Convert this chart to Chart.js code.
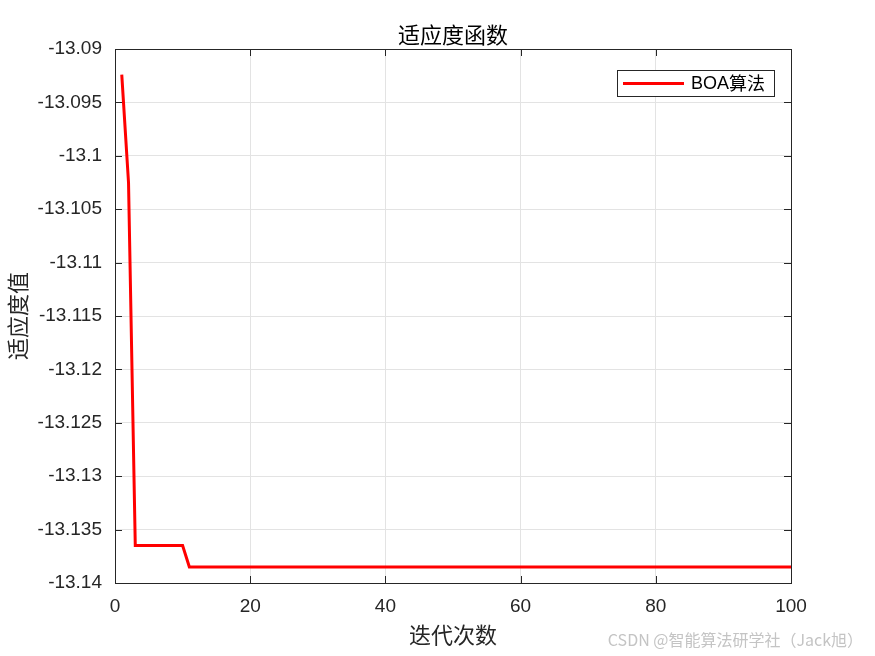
<!DOCTYPE html>
<html>
<head>
<meta charset="utf-8">
<script src="https://cdn.jsdelivr.net/npm/chart.js@4/dist/chart.umd.min.js"></script>
<style>
    html, body { margin: 0; padding: 0; background: #fff; }
    #wrap { position: relative; width: 875px; height: 656px; }
</style>
</head>
<body>
<div id="wrap"><canvas id="fitChart" width="875" height="656"></canvas></div>
<script>
// Data (breakpoints of the convergence curve)
const iterations = [1, 2, 3, 10, 11, 100];
const fitness = [-13.0924, -13.1025, -13.1365, -13.1365, -13.1385, -13.1385];
const xTicks = [0, 20, 40, 60, 80, 100];
const yTicks = [-13.14, -13.135, -13.13, -13.125, -13.12, -13.115, -13.11, -13.105, -13.1, -13.095, -13.09];

const seriesLabel = 'BOA算法';
const chartTitle = '适应度函数';
const xTitle = '迭代次数';
const yTitle = '适应度值';
const watermark = 'CSDN @智能算法研学社（Jack旭）';

const latinFont = "'Liberation Sans', Arial, sans-serif";
const cjkFont = "'Noto Sans CJK SC', sans-serif";

// Box, inner ticks, title, legend and watermark (MATLAB look)
const matlabFrame = {
    id: 'matlabFrame',
    afterDraw(chart) {
        const { ctx, chartArea: a, scales } = chart;
        ctx.save();

        // inner tick marks on all four sides
        ctx.strokeStyle = '#262626';
        ctx.lineWidth = 1;
        const tl = 7;
        xTicks.forEach(v => {
            const px = Math.round(scales.x.getPixelForValue(v)) + 0.5;
            ctx.beginPath();
            ctx.moveTo(px, a.bottom); ctx.lineTo(px, a.bottom - tl);
            ctx.moveTo(px, a.top); ctx.lineTo(px, a.top + tl);
            ctx.stroke();
        });
        yTicks.forEach(v => {
            const py = Math.round(scales.y.getPixelForValue(v)) + 0.5;
            ctx.beginPath();
            ctx.moveTo(a.left, py); ctx.lineTo(a.left + tl, py);
            ctx.moveTo(a.right, py); ctx.lineTo(a.right - tl, py);
            ctx.stroke();
        });

        // axes box
        ctx.strokeStyle = '#262626';
        ctx.strokeRect(Math.round(a.left) + 0.5, Math.round(a.top) + 0.5,
            Math.round(a.right - a.left), Math.round(a.bottom - a.top));

        // title
        ctx.fillStyle = '#000';
        ctx.font = `22px ${cjkFont}`;
        ctx.textAlign = 'center';
        ctx.textBaseline = 'bottom';
        ctx.fillText(chartTitle, (a.left + a.right) / 2, a.top - 3);

        // legend box
        const lx = 617, ly = 70, lw = 157, lh = 26;
        ctx.fillStyle = '#fff';
        ctx.fillRect(lx, ly, lw, lh);
        ctx.strokeStyle = '#262626';
        ctx.strokeRect(lx + 0.5, ly + 0.5, lw, lh);
        ctx.strokeStyle = '#ff0000';
        ctx.lineWidth = 3;
        ctx.beginPath();
        ctx.moveTo(lx + 6, ly + 13.5);
        ctx.lineTo(lx + 67, ly + 13.5);
        ctx.stroke();
        ctx.fillStyle = '#000';
        ctx.textAlign = 'left';
        ctx.textBaseline = 'middle';
        ctx.font = `18px ${latinFont}`;
        ctx.fillText('BOA', lx + 74, ly + 14);
        const w = ctx.measureText('BOA').width;
        ctx.font = `18px ${cjkFont}`;
        ctx.fillText('算法', lx + 74 + w, ly + 13);

        // watermark
        ctx.fillStyle = '#c4c4c4';
        ctx.font = `16px ${cjkFont}`;
        ctx.textAlign = 'right';
        ctx.textBaseline = 'middle';
        ctx.fillText(watermark, 863, 640);

        ctx.restore();
    }
};

new Chart(document.getElementById('fitChart'), {
    type: 'line',
    data: {
        datasets: [{
            label: seriesLabel,
            data: iterations.map((x, i) => ({ x, y: fitness[i] })),
            borderColor: '#ff0000',
            backgroundColor: '#ff0000',
            borderWidth: 3,
            pointRadius: 0,
            tension: 0,
            fill: false
        }]
    },
    options: {
        responsive: false,
        animation: false,
        layout: { padding: { top: 49, right: 84, left: 0, bottom: 0 } },
        plugins: {
            legend: { display: false },
            title: { display: false },
            tooltip: { enabled: false }
        },
        scales: {
            x: {
                type: 'linear',
                min: 0,
                max: 100,
                afterBuildTicks: s => { s.ticks = xTicks.map(v => ({ value: v })); },
                afterFit: s => { s.height = 73; },
                grid: { color: '#e3e3e3', drawTicks: false },
                border: { display: false },
                ticks: {
                    color: '#262626',
                    font: { family: latinFont, size: 19 },
                    padding: 12,
                    maxRotation: 0
                },
                title: {
                    display: true,
                    text: xTitle,
                    color: '#262626',
                    font: { family: cjkFont, size: 22 },
                    padding: { top: 2, bottom: 8 }
                }
            },
            y: {
                type: 'linear',
                min: -13.14,
                max: -13.09,
                afterBuildTicks: s => { s.ticks = yTicks.map(v => ({ value: v })); },
                afterFit: s => { s.width = 115; },
                grid: { color: '#e3e3e3', drawTicks: false },
                border: { display: false },
                ticks: {
                    color: '#262626',
                    font: { family: latinFont, size: 19 },
                    padding: 13,
                    callback: v => String(parseFloat(v.toFixed(3)))
                },
                title: {
                    display: true,
                    text: yTitle,
                    color: '#262626',
                    font: { family: cjkFont, size: 22 },
                    padding: { top: 4, bottom: 0 }
                }
            }
        }
    },
    plugins: [matlabFrame]
});
</script>
</body>
</html>
